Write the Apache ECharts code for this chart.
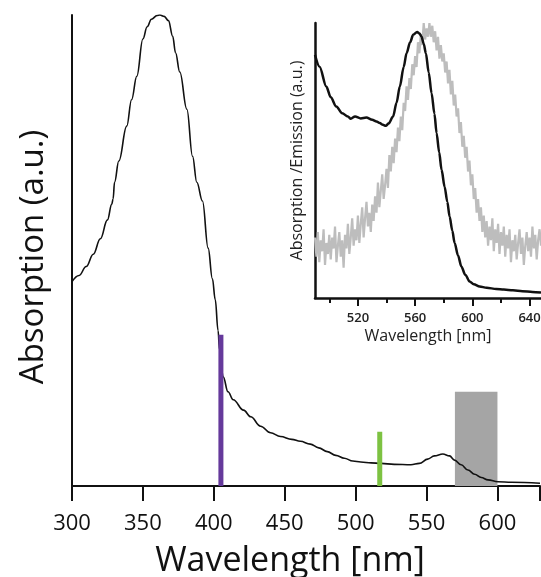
<!DOCTYPE html>
<html>
<head>
<meta charset="utf-8">
<script src="https://cdn.jsdelivr.net/npm/echarts@6/dist/echarts.min.js"></script>
<style>
html,body{margin:0;padding:0;background:#fff;}
#chart{width:541px;height:577px;}
</style>
</head>
<body>
<div id="chart"></div>
<script>
// Main absorption spectrum: [wavelength nm, absorption a.u.]
const mainWavelength = [300,305,310,315,320,325,328,329,330,333,338.6,342,345.7,350,353,356,360,362,365,368,371,373,376,381,385,388,392,396,399,401,403,404,406.6,410,413.7,421,426,433,440,447,455,461,468,474,480,486,492,498,503.6,511,517.8,527.2,539,544.9,550.8,555.5,561.5,566.2,569.7,574.4,579.2,583.9,588.6,593.3,600.4,609.8,630];
const mainAbsorption = [0.434,0.447,0.466,0.492,0.525,0.565,0.598,0.610,0.645,0.690,0.764,0.820,0.870,0.949,0.975,0.991,0.999,1.0,0.997,0.988,0.955,0.920,0.879,0.800,0.700,0.645,0.605,0.505,0.440,0.396,0.330,0.290,0.232,0.200,0.183,0.161,0.147,0.127,0.113,0.105,0.099,0.095,0.089,0.081,0.073,0.065,0.059,0.053,0.051,0.049,0.048,0.046,0.045,0.048,0.057,0.064,0.068,0.064,0.055,0.045,0.034,0.025,0.018,0.013,0.009,0.008,0.006];

// Excitation lines and detection band
const laserNm = [405, 517];
const laserHeight = [0.321, 0.115];
const bandRange = [570, 600];
const bandHeight = 0.2;

// Main axis ticks
const mainTicks = [300,350,400,450,500,550,600];

// Inset absorption (black)
const insetAbsNm = [490,493.2,497.9,501,504.9,509,513,515,518,522,525.9,530,533,535.3,537.5,539.5,541.5,544.6,547,549.3,552,554,556.5,558.6,561.4,563,564.5,566,567.5,569.5,571.5,573.5,575,576.8,578.5,580.6,582.5,584.1,586,587.6,590,592.3,595,598.1,601,605.1,610,616.8,622,628.4,635,642,648];
const insetAbs = [0.884,0.841,0.769,0.730,0.696,0.672,0.660,0.652,0.660,0.653,0.656,0.648,0.642,0.636,0.630,0.626,0.635,0.660,0.710,0.769,0.840,0.890,0.930,0.957,0.967,0.962,0.950,0.925,0.890,0.820,0.745,0.670,0.600,0.530,0.466,0.405,0.350,0.296,0.245,0.200,0.155,0.115,0.085,0.060,0.050,0.042,0.037,0.033,0.031,0.028,0.025,0.022,0.020];

// Inset emission (grey), 1 nm steps from 490 to 648 nm
const emissionStart = 490;
const insetEmission = [
0.22,0.15,0.24,0.13,0.21,0.17,0.25,0.12,0.20,0.16,
0.23,0.14,0.22,0.18,0.26,0.13,0.19,0.24,0.15,0.21,
0.11,0.23,0.18,0.27,0.16,0.22,0.29,0.19,0.25,0.21,
0.30,0.20,0.27,0.33,0.22,0.29,0.35,0.26,0.31,0.24,
0.34,0.28,0.37,0.31,0.42,0.33,0.39,0.45,0.36,0.41,
0.47,0.40,0.52,0.46,0.55,0.49,0.58,0.53,0.62,0.57,
0.66,0.61,0.71,0.68,0.77,0.72,0.80,0.76,0.85,0.81,
0.88,0.84,0.93,0.89,0.96,0.92,1.00,0.94,0.98,0.95,
1.00,0.95,0.99,0.93,0.97,0.90,0.95,0.87,0.92,0.86,
0.89,0.82,0.86,0.78,0.83,0.74,0.79,0.70,0.74,0.66,
0.69,0.60,0.64,0.55,0.59,0.51,0.55,0.46,0.50,0.41,
0.45,0.36,0.40,0.31,0.36,0.28,0.33,0.24,0.30,0.22,
0.28,0.19,0.26,0.21,0.29,0.17,0.25,0.20,0.27,0.16,
0.24,0.19,0.26,0.15,0.23,0.18,0.25,0.13,0.21,0.17,
0.23,0.14,0.20,0.25,0.16,0.22,0.12,0.19,0.24,0.17,
0.22,0.15,0.26,0.18,0.23,0.14,0.21,0.25,0.19];

const insetLabels = [520,560,600,640];
const insetMinorTicks = [500,540,580,620];

const FONT = '"Open Sans", "Liberation Sans", sans-serif';
const mainSeriesData = mainWavelength.map((x,i)=>[x, mainAbsorption[i]]);
const insetAbsData = insetAbsNm.map((x,i)=>[x, insetAbs[i]]);
const insetEmData = insetEmission.map((v,i)=>[emissionStart+i, v]);

const chart = echarts.init(document.getElementById('chart'), null, {renderer:'canvas'});
const laserColors = ['#65399b', '#7dc242'];

const laserSeries = laserNm.map((nm,i)=>({
  type:'line', xAxisIndex:0, yAxisIndex:0, z:5,
  data:[[nm,0],[nm,laserHeight[i]]],
  symbol:'none', silent:true,
  lineStyle:{color:laserColors[i], width:5, cap:'butt'}
}));

chart.setOption({
  animation:false,
  backgroundColor:'#fff',
  grid:[
    {left:72, right:1, top:15, bottom:91, outerBoundsMode:'none', containLabel:false},
    {left:315, right:0, top:23, bottom:279, outerBoundsMode:'none', containLabel:false}
  ],
  xAxis:[
    {gridIndex:0, type:'value', min:300, max:630, interval:50,
     name:'Wavelength [nm]', nameLocation:'middle', nameGap:58,
     nameTextStyle:{fontFamily:FONT, fontSize:34, color:'#111', padding:[0,32,0,0]},
     axisLine:{lineStyle:{color:'#111', width:2}},
     axisTick:{show:true, length:15, lineStyle:{color:'#111', width:2}},
     axisLabel:{fontFamily:FONT, fontSize:22, color:'#111', margin:27,
       formatter:v=> mainTicks.indexOf(v)>=0 ? String(v) : ''},
     splitLine:{show:false}},
    {gridIndex:1, type:'value', min:490, max:648,
     name:'Wavelength [nm]', nameLocation:'middle', nameGap:30,
     nameTextStyle:{fontFamily:FONT, fontSize:16, color:'#222'},
     axisLine:{lineStyle:{color:'#111', width:2.5}},
     axisTick:{show:true, length:8, customValues:insetLabels, lineStyle:{color:'#111', width:2}},
     axisLabel:{fontFamily:FONT, fontSize:13, fontWeight:600, color:'#222', margin:14, customValues:insetLabels},
     splitLine:{show:false}},
    {gridIndex:1, type:'value', min:490, max:648, position:'bottom',
     axisLine:{show:false},
     axisTick:{show:true, length:5, customValues:insetMinorTicks, lineStyle:{color:'#111', width:2}},
     axisLabel:{show:false},
     splitLine:{show:false}}
  ],
  yAxis:[
    {gridIndex:0, type:'value', min:0, max:1,
     name:'Absorption (a.u.)', nameLocation:'middle', nameGap:22,
     nameTextStyle:{fontFamily:FONT, fontSize:33, color:'#111', padding:[0,13,0,0]},
     axisLine:{show:true, lineStyle:{color:'#111', width:2}},
     axisTick:{show:false}, axisLabel:{show:false}, splitLine:{show:false}},
    {gridIndex:1, type:'value', min:0, max:1,
     name:'Absorption /Emission (a.u.)', nameLocation:'middle', nameGap:10,
     nameTextStyle:{fontFamily:FONT, fontSize:16, color:'#222'},
     axisLine:{show:true, lineStyle:{color:'#111', width:2.5}},
     axisTick:{show:false}, axisLabel:{show:false}, splitLine:{show:false}}
  ],
  series:[
    {type:'line', xAxisIndex:0, yAxisIndex:0, z:3, symbol:'none', smooth:0.4, smoothMonotone:'x',
     data:mainSeriesData,
     lineStyle:{color:'#111', width:1.6},
     markArea:{silent:true, itemStyle:{color:'#a5a5a5'},
       data:[[{coord:[bandRange[0],0]},{coord:[bandRange[1],bandHeight]}]]},
    },
    ...laserSeries,
    {type:'line', xAxisIndex:1, yAxisIndex:1, z:3, symbol:'none',
     data:insetEmData,
     lineStyle:{color:'#bdbdbd', width:2.2}},
    {type:'line', xAxisIndex:1, yAxisIndex:1, z:4, symbol:'none', smooth:0.3, smoothMonotone:'x',
     data:insetAbsData,
     lineStyle:{color:'#111', width:2.5}}
  ]
});
</script>
</body>
</html>
